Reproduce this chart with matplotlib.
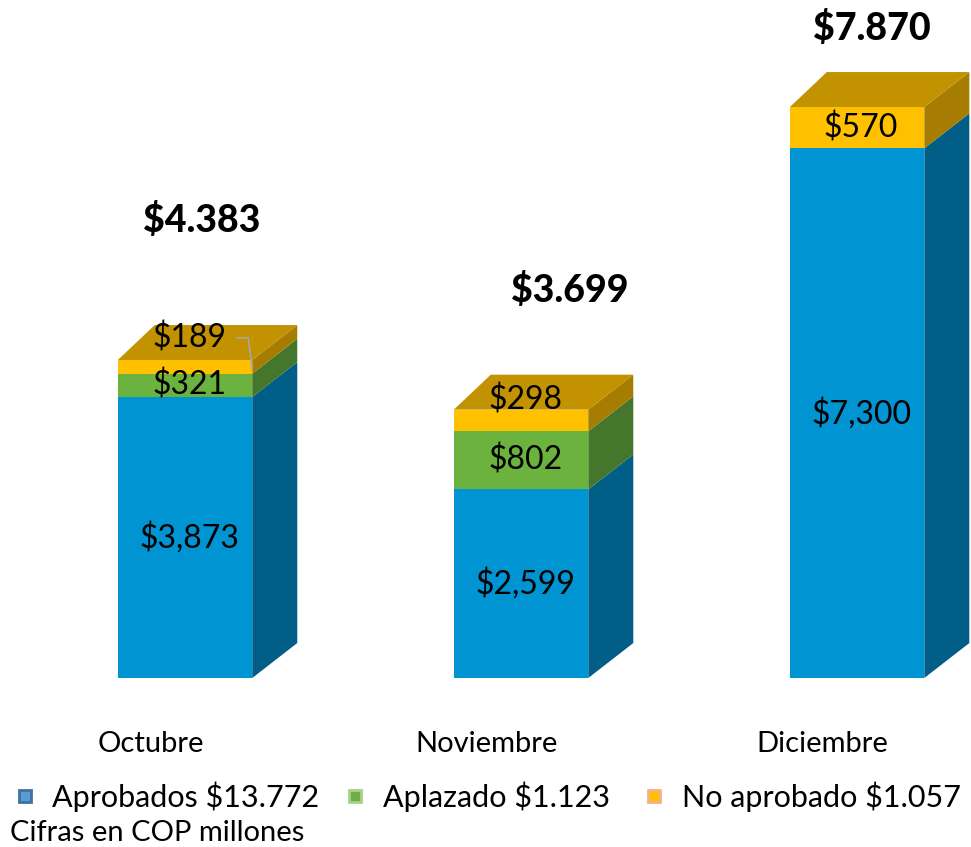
import matplotlib
matplotlib.use('Agg')
import matplotlib.pyplot as plt
from matplotlib.patches import Polygon, Rectangle

plt.rcParams['font.family'] = ['Lato', 'DejaVu Sans']

# datos (COP millones)
meses = ['Octubre', 'Noviembre', 'Diciembre']
aprobados = [3873, 2599, 7300]
aplazado = [321, 802, 0]
no_aprobado = [189, 298, 570]
totales = ['$4.383', '$3.699', '$7.870']
etiquetas_leyenda = ['Aprobados $13.772', 'Aplazado $1.123', 'No aprobado $1.057']

# colores: frente, lateral
colores = [('#0094D2', '#005E87'), ('#6BB23F', '#44762B'), ('#FFC000', '#A67D00')]
color_techo = '#C29200'
colores_leyenda = [('#5B9BD5', '#41719C'), ('#70AD47', '#A9D18E'), ('#FFC000', '#F4B183')]

ancho = 0.4
prof_izq, prof_der = 0.110, 0.134   # profundidad en x (perspectiva)
prof_y = 482                        # profundidad en y (unidades de datos)
px = 13.78                          # unidades de datos por pixel

W, H = 971, 847
fig = plt.figure(figsize=(W / 100, H / 100), dpi=100)
ax = fig.add_axes([0, 0, 1, 1])
ax.set_xlim(-0.5506, 2.339)
ax.set_ylim(-2329, 9345)
ax.axis('off')


def fmt(v):
    return '${:,}'.format(v)


for i, mes in enumerate(meses):
    x0, x1 = i - ancho / 2, i + ancho / 2
    base = 0
    tramos = [aprobados[i], aplazado[i], no_aprobado[i]]
    for k, v in enumerate(tramos):
        if v == 0:
            continue
        frente, lado = colores[k]
        ax.add_patch(Polygon([(x0, base), (x1, base), (x1, base + v), (x0, base + v)],
                             closed=True, facecolor=frente, edgecolor='none'))
        ax.add_patch(Polygon([(x1, base), (x1 + prof_der, base + prof_y),
                              (x1 + prof_der, base + v + prof_y), (x1, base + v)],
                             closed=True, facecolor=lado, edgecolor='none'))
        base += v
    # techo de la barra
    ax.add_patch(Polygon([(x0, base), (x1, base), (x1 + prof_der, base + prof_y),
                          (x0 + prof_izq, base + prof_y)],
                         closed=True, facecolor=color_techo, edgecolor='none'))

    # etiquetas de cada tramo
    y = 0
    for k, v in enumerate(tramos):
        if v == 0:
            continue
        yc = y + v / 2
        if k == 2 and i == 0:
            yc += 29 * px
            ax.plot([i + 0.155, i + 0.188, i + 0.2], [yc, yc, y + v / 2 - 2 * px],
                    color='#A6A6A6', lw=1.2)
        elif k == 2 and i == 1:
            yc += 20 * px
        ax.text(i + 0.012, yc, fmt(v), ha='center', va='center', fontsize=23, color='black')
        y += v

# totales
pos_totales = [(0.05, 4383 + 140 * px), (0.146, 3699 + 120 * px), (0.045, 7870 + 79 * px)]
for i, t in enumerate(totales):
    dx, yt = pos_totales[i]
    ax.text(i + dx, yt, t, ha='center', va='center', fontsize=27, fontweight='black')

# meses
for i, mes in enumerate(meses):
    ax.text(i - 0.102, -66 * px, mes, ha='center', va='center', fontsize=21)

# leyenda
for xs, xt, (f, e), lab in zip([19, 349, 648], [52, 383, 682], colores_leyenda, etiquetas_leyenda):
    fig.patches.append(Rectangle((xs / W, 1 - 802 / H), 12 / W, 12 / H, transform=fig.transFigure,
                                 facecolor=f, edgecolor=e, linewidth=2))
    fig.text(xt / W, 1 - 797 / H, lab, fontsize=22, ha='left', va='center')
fig.text(10 / W, 1 - 833 / H, 'Cifras en COP millones', fontsize=21, ha='left', va='center')

plt.savefig('out.png', dpi=100)
plt.close()
